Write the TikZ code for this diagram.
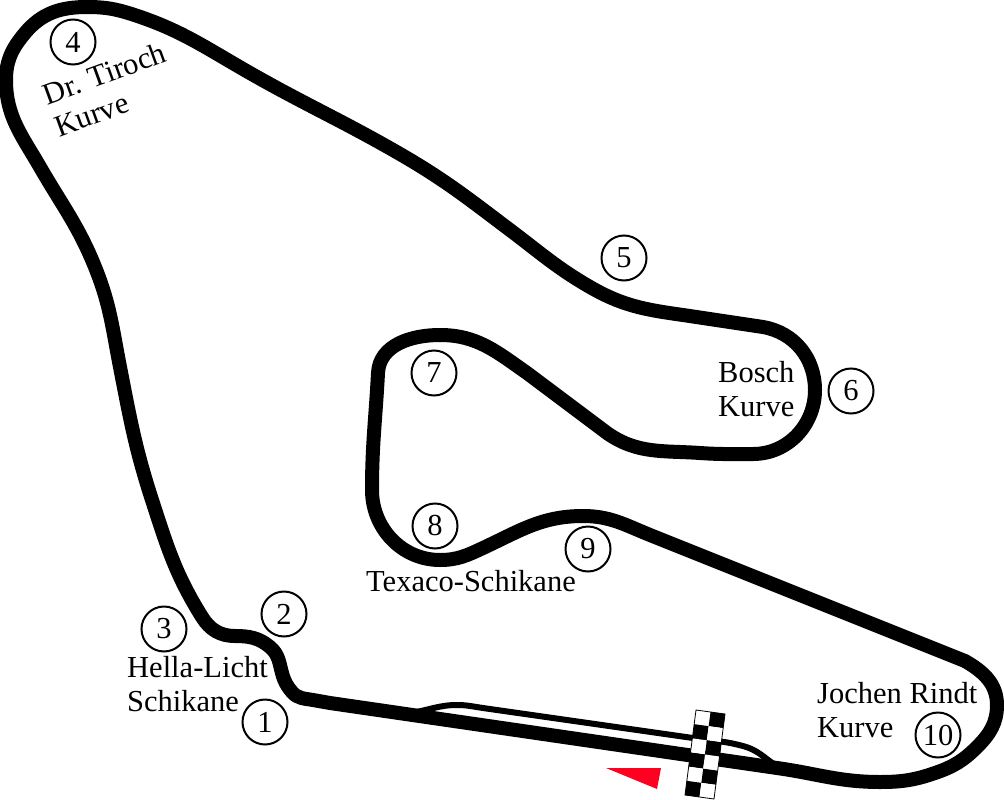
\documentclass[tikz,border=0pt]{standalone}
\usepackage{fontspec}
\setmainfont{Liberation Serif}
\definecolor{gridred}{RGB}{255,0,33}
\tikzset{
	trackline/.style={line width=14pt, line join=round},
	pitline/.style={line width=6pt, line cap=round},
	turnmark/.style={circle, draw, line width=2pt, minimum size=45pt, inner sep=0pt},
	cornerlabel/.style={align=left, inner sep=0pt, anchor=north west}
}
\begin{document}
\begin{tikzpicture}[x=1pt,y=-1pt,font=\fontsize{30.5}{34.5}\selectfont]
	\useasboundingbox (0,0) rectangle (1004,800);
	
	% pit lane first, main circuit above it
	\draw[pitline] (410,713) to[out=8,in=180] (457,705) to[out=0,in=172] (483,708)
		-- (693,738) to[out=-8,in=165] (743,746) to[out=-15,in=145] (775,765);
	
	\draw[trackline] (330,703) -- (777,768)
		to[out=-8,in=180] (880,782) to[out=0,in=199] (935,773) to[out=19,in=225] (977,747)
		to[out=45,in=270] (997,705) to[out=90,in=330] (965,661) -- (650,535) to[out=158,in=0] (583,516)
		to[out=180,in=25] (483,548) to[out=205,in=0] (440,560) to[out=180,in=270] (372,490)
		to[out=90,in=267] (378,373) to[out=87,in=180] (440,335)
		to[out=0,in=145] (527,373) -- (607,433) to[out=-35,in=176] (700,453)
		to[out=-4,in=180] (753,454) to[out=0,in=270] (815,390) to[out=90,in=350] (763,327)
		-- (683,315) to[out=172,in=330] (590,287) to[out=150,in=323] (510,230)
		to[out=143,in=330] (400,154) to[out=150,in=330] (243,69) to[out=150,in=342] (133,14.5)
		to[out=162,in=0] (87,7) to[out=180,in=50] (25,33) to[out=230,in=90] (6,80)
		to[out=270,in=120] (40,167) to[out=300,in=112] (95,267) to[out=292,in=101] (120,367)
		to[out=281,in=108] (152,500) to[out=288,in=122] (202,617) to[out=302,in=180] (235,636)
		to[out=0,in=140] (270,647) to[out=320,in=105] (282,673) to[out=285,in=130] (292,692)
		to[out=310,in=170] (313,700) -- cycle;
	
	% start flag
	\foreach \i in {0,...,5} {
		\foreach \j in {0,1} {
			\pgfmathsetmacro{\x}{696+14.5*\j-1.83*\i}
			\pgfmathsetmacro{\y}{710+2*\j+14.17*\i}
			\pgfmathtruncatemacro{\s}{mod(\i+\j,2)}
			\ifnum\s=1
			\fill[black] (\x,\y) -- ++(14.5,2) -- ++(-1.83,14.17) -- ++(-14.5,-2) -- cycle;
			\else
			\fill[white] (\x,\y) -- ++(14.5,2) -- ++(-1.83,14.17) -- ++(-14.5,-2) -- cycle;
			\fi
		}
	}
	\draw[line width=0.8pt] (696,710) -- (725,714) -- (714,799) -- (685,795) -- cycle;
	
	\fill[gridred] (606,768) -- (661,768) -- (657,789) -- cycle;
	
	\foreach \n/\x/\y in {1/265/722,2/284/614,3/164/629,4/73/42,5/624/258,6/851/391,7/434/373,8/435/526,9/588/549,10/938/735} {
		\node[turnmark] (turn\n) at (\x,\y) {\n};
	}
	
	\node[cornerlabel] (hella) at (127,656) {Hella-Licht\\Schikane};
	\node[cornerlabel,rotate=20] (tiroch) at (40,85) {Dr. Tiroch\\Kurve};
	\node[cornerlabel] (bosch) at (718,361) {Bosch\\Kurve};
	\node[cornerlabel] (texaco) at (366,570) {Texaco-Schikane};
	\node[cornerlabel] (rindt) at (817,682) {Jochen Rindt\\Kurve};
\end{tikzpicture}
\end{document}
